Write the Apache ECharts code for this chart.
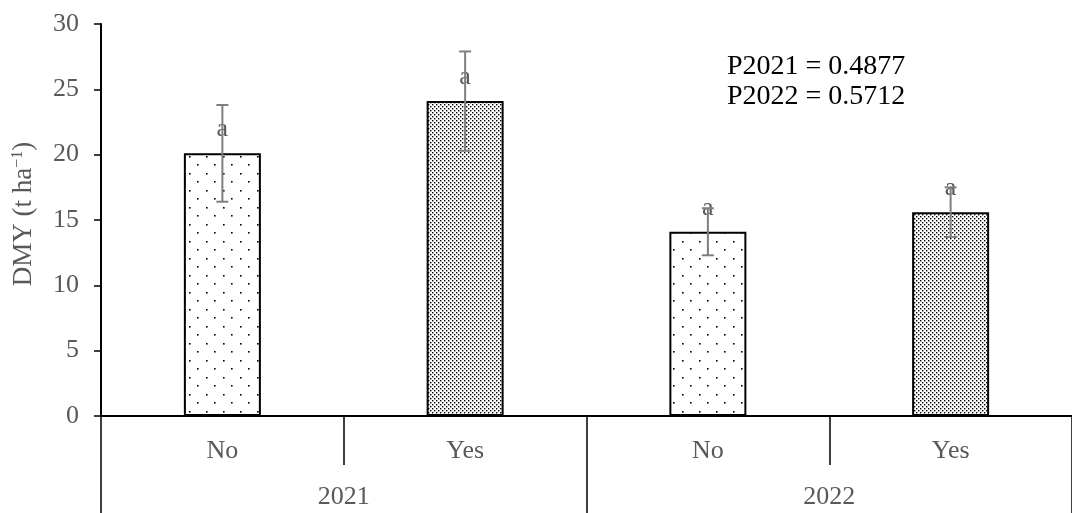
<!DOCTYPE html>
<html>
<head>
<meta charset="utf-8">
<script src="https://cdn.jsdelivr.net/npm/echarts@6/dist/echarts.min.js"></script>
<style>
  html, body { margin: 0; padding: 0; background: #fff; }
  #chart { width: 1072px; height: 513px; }
</style>
</head>
<body>
<div id="chart"></div>
<script>
// Treatment levels within each year, and the year groups
const treatments = ['No', 'Yes', 'No', 'Yes'];
const years = ['2021', '2022'];
// Dry matter yield (t ha-1) and its standard error
const dmy = [20.1, 24.1, 14.1, 15.6];
const dmyErr = [3.7, 3.8, 1.8, 1.9];
const letters = ['a', 'a', 'a', 'a'];
const pTexts = ['P2021 = 0.4877', 'P2022 = 0.5712'];
const yTicks = [0, 5, 10, 15, 20, 25, 30];

const serif = '"Liberation Serif", "DejaVu Serif", serif';
const grey = '#595959';
const fs = 26;

// dotted fills for the bars
function dotPattern(size, dots, r) {
  const c = document.createElement('canvas');
  c.width = size; c.height = size;
  const g = c.getContext('2d');
  g.fillStyle = '#fff';
  g.fillRect(0, 0, size, size);
  g.fillStyle = '#000';
  dots.forEach(([x, y]) => { g.fillRect(x, y, r, r); });
  return { image: c, repeat: 'repeat' };
}
const sparse = dotPattern(17, [[2, 3], [10, 11]], 1.6);
const dense = dotPattern(4, [[0, 0], [2, 2]], 1.4);
const fills = [sparse, dense, sparse, dense];

const chart = echarts.init(document.getElementById('chart'), null, { renderer: 'canvas' });

const option = {
  animation: false,
  backgroundColor: '#fff',
  grid: { left: 101, top: 24, bottom: 97, width: 980, containLabel: false },
  xAxis: [
    {
      type: 'category',
      data: treatments,
      position: 'bottom',
      axisLine: { show: true, lineStyle: { color: '#000', width: 2 } },
      axisTick: { show: true, interval: 0, length: 49, lineStyle: { color: '#000', width: 1.5 } },
      axisLabel: { interval: 0, margin: 22, fontFamily: serif, fontSize: fs, color: grey }
    },
    {
      type: 'category',
      data: years,
      position: 'bottom',
      axisLine: { show: false },
      axisTick: { show: true, interval: 0, length: 97, lineStyle: { color: '#000', width: 1.5 } },
      axisLabel: { interval: 0, margin: 68, fontFamily: serif, fontSize: fs, color: grey }
    }
  ],
  yAxis: {
    type: 'value',
    min: yTicks[0],
    max: yTicks[yTicks.length - 1],
    interval: 5,
    splitLine: { show: false },
    axisLine: { show: true, lineStyle: { color: '#000', width: 2 } },
    axisTick: { show: true, inside: false, length: 7, lineStyle: { color: '#000', width: 1.5 } },
    axisLabel: { margin: 22, fontFamily: serif, fontSize: fs, color: grey }
  },
  graphic: [
    {
      type: 'text',
      x: 24, y: 214,
      rotation: Math.PI / 2,
      style: {
        text: '{n|DMY (t ha}{s|−1}{n|)}',
        align: 'center',
        verticalAlign: 'middle',
        rich: {
          n: { fontFamily: serif, fontSize: 27, fill: grey, color: grey },
          s: { fontFamily: serif, fontSize: 16, fill: grey, color: grey, verticalAlign: 'top', padding: [0, 0, 12, 0] }
        }
      }
    },
    {
      type: 'text',
      x: 727, y: 67,
      style: { text: pTexts[0], fontFamily: serif, fontSize: 28, fill: '#000', verticalAlign: 'middle' }
    },
    {
      type: 'text',
      x: 727, y: 97,
      style: { text: pTexts[1], fontFamily: serif, fontSize: 28, fill: '#000', verticalAlign: 'middle' }
    }
  ],
  series: [
    {
      type: 'bar',
      barWidth: 77,
      data: dmy.map((v, i) => ({
        value: v,
        itemStyle: { color: fills[i], borderColor: '#000', borderWidth: 2 },
        label: {
          show: true,
          position: 'top',
          distance: 11,
          formatter: letters[i],
          fontFamily: serif,
          fontSize: fs,
          color: grey
        }
      })),
      z: 2
    },
    {
      type: 'custom',
      z: 5,
      data: dmy.map((v, i) => [i, v - dmyErr[i], v + dmyErr[i]]),
      renderItem: function (params, api) {
        const x = api.value(0);
        const lo = api.coord([x, api.value(1)]);
        const hi = api.coord([x, api.value(2)]);
        const half = 6;
        const style = { stroke: '#7f7f7f', lineWidth: 2 };
        return {
          type: 'group',
          children: [
            { type: 'line', shape: { x1: hi[0], y1: hi[1], x2: lo[0], y2: lo[1] }, style: style },
            { type: 'line', shape: { x1: hi[0] - half, y1: hi[1], x2: hi[0] + half, y2: hi[1] }, style: style },
            { type: 'line', shape: { x1: lo[0] - half, y1: lo[1], x2: lo[0] + half, y2: lo[1] }, style: style }
          ]
        };
      }
    }
  ]
};
chart.setOption(option);
</script>
</body>
</html>
